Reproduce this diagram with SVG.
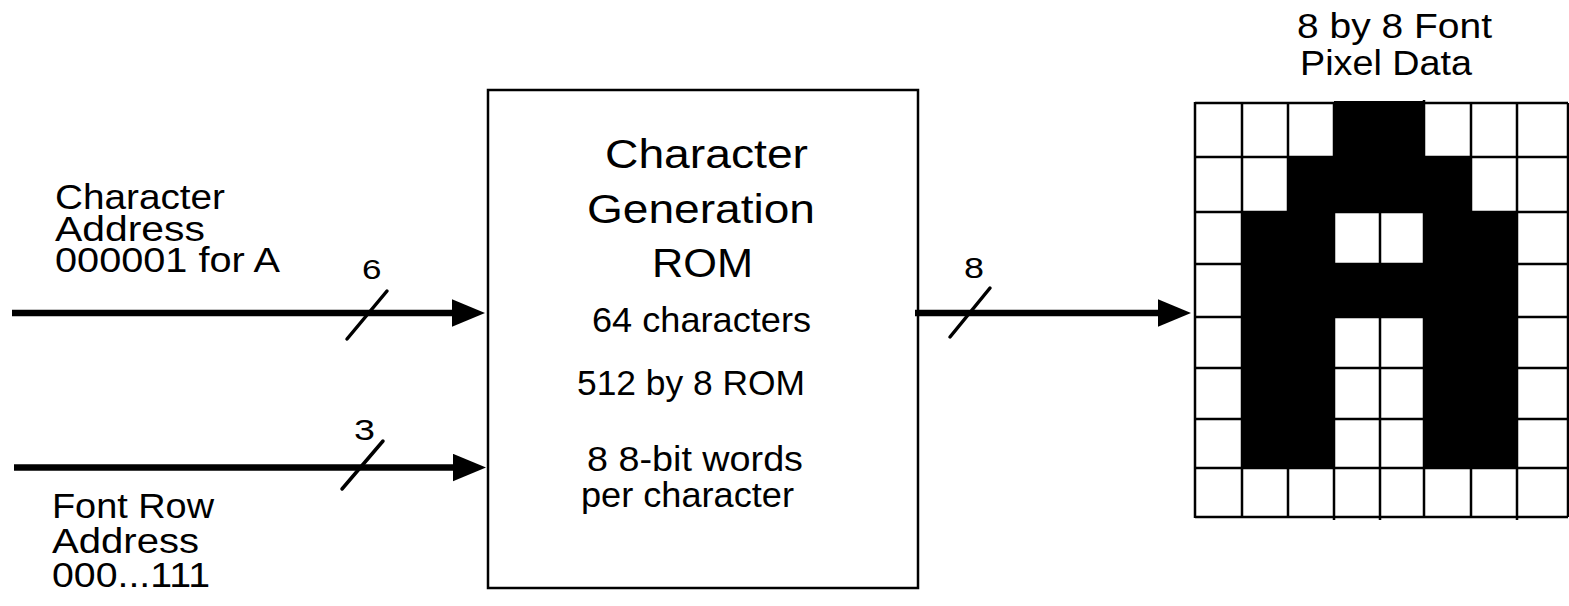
<svg xmlns="http://www.w3.org/2000/svg" width="1569" height="606" viewBox="0 0 1569 606">
  <style>
    text { font-family: "Liberation Sans", Arial, sans-serif; fill: #000; }
    .big { font-size: 40px; }
    .mid { font-size: 35px; }
    .bus { stroke: #000; stroke-width: 6.5; fill: none; }
    .slash { stroke: #000; stroke-width: 3.5; stroke-linecap: round; }
    .box { fill: #fff; stroke: #000; stroke-width: 2.5; }
    .grid line { stroke: #000; stroke-width: 2.5; }
    .on { fill: #000; }
  </style>
  <defs>
    <marker id="head" markerUnits="userSpaceOnUse" markerWidth="34" markerHeight="28" refX="0" refY="14" orient="auto">
      <path d="M0,0.3 L33,14 L0,27.7 z" fill="#000"/>
    </marker>
  </defs>

  <rect width="1569" height="606" fill="#fff"/>

  <!-- input labels -->
  <g id="char-address-label">
    <text class="mid" x="55" y="209" textLength="170" lengthAdjust="spacingAndGlyphs">Character</text>
    <text class="mid" x="55" y="241" textLength="150" lengthAdjust="spacingAndGlyphs">Address</text>
    <text class="mid" x="55" y="272" textLength="225" lengthAdjust="spacingAndGlyphs">000001  for A</text>
  </g>
  <g id="font-row-label">
    <text class="mid" x="52" y="518" textLength="162" lengthAdjust="spacingAndGlyphs">Font Row</text>
    <text class="mid" x="52" y="553" textLength="147" lengthAdjust="spacingAndGlyphs">Address</text>
    <text class="mid" x="52" y="587" textLength="158" lengthAdjust="spacingAndGlyphs">000...111</text>
  </g>

  <!-- ROM block -->
  <g id="rom">
    <rect class="box" x="488" y="90" width="430" height="498"/>
    <text class="big" x="605" y="168" textLength="203" lengthAdjust="spacingAndGlyphs">Character</text>
    <text class="big" x="587" y="223" textLength="228" lengthAdjust="spacingAndGlyphs">Generation</text>
    <text class="big" x="652" y="277" textLength="101" lengthAdjust="spacingAndGlyphs">ROM</text>
    <text class="mid" x="592" y="332" textLength="219" lengthAdjust="spacingAndGlyphs">64 characters</text>
    <text class="mid" x="577" y="395" textLength="228" lengthAdjust="spacingAndGlyphs">512 by 8 ROM</text>
    <text class="mid" x="587" y="471" textLength="216" lengthAdjust="spacingAndGlyphs">8  8-bit words</text>
    <text class="mid" x="581" y="507" textLength="213" lengthAdjust="spacingAndGlyphs">per character</text>
  </g>

  <!-- output label -->
  <g id="pixel-data-label">
    <text class="mid" x="1297" y="38" textLength="195" lengthAdjust="spacingAndGlyphs">8 by 8 Font</text>
    <text class="mid" x="1300" y="75" textLength="172" lengthAdjust="spacingAndGlyphs">Pixel Data</text>
  </g>

  <!-- 8x8 font bitmap for the letter A -->
  <g id="font-grid">
    <rect x="1195" y="103" width="373" height="414" fill="#fff"/>
    <g class="grid">
      <line x1="1195" y1="102" x2="1195" y2="518"/>
      <line x1="1242" y1="103" x2="1242" y2="517"/>
      <line x1="1288" y1="103" x2="1288" y2="517"/>
      <line x1="1334" y1="103" x2="1334" y2="520"/>
      <line x1="1380" y1="103" x2="1380" y2="520"/>
      <line x1="1424" y1="100" x2="1424" y2="517"/>
      <line x1="1471" y1="103" x2="1471" y2="517"/>
      <line x1="1517" y1="103" x2="1517" y2="520"/>
      <line x1="1568" y1="103" x2="1568" y2="517"/>
      <line x1="1195" y1="103" x2="1568" y2="103"/>
      <line x1="1195" y1="157" x2="1568" y2="157"/>
      <line x1="1195" y1="212" x2="1568" y2="212"/>
      <line x1="1195" y1="264" x2="1568" y2="264"/>
      <line x1="1195" y1="317" x2="1568" y2="317"/>
      <line x1="1195" y1="368" x2="1568" y2="368"/>
      <line x1="1195" y1="419" x2="1568" y2="419"/>
      <line x1="1195" y1="468" x2="1568" y2="468"/>
      <line x1="1195" y1="517" x2="1568" y2="517"/>
    </g>
    <!-- row 0 -->
    <rect class="on" x="1334" y="101" width="90" height="56"/>
    <!-- row 1 -->
    <rect class="on" x="1288" y="157" width="183" height="55"/>
    <!-- row 2 -->
    <rect class="on" x="1242" y="211" width="92" height="53"/>
    <rect class="on" x="1424" y="211" width="93" height="53"/>
    <!-- row 3 -->
    <rect class="on" x="1242" y="263" width="275" height="55"/>
    <!-- rows 4-6 -->
    <rect class="on" x="1242" y="317" width="92" height="151"/>
    <rect class="on" x="1424" y="317" width="93" height="151"/>
  </g>

  <!-- buses -->
  <g id="connectors">
    <line class="bus" x1="12" y1="313" x2="452" y2="313" marker-end="url(#head)"/>
    <line class="slash" x1="347" y1="339" x2="387" y2="291"/>
    <text x="362" y="279" font-size="27" textLength="19.5" lengthAdjust="spacingAndGlyphs">6</text>

    <line class="bus" x1="14" y1="467.5" x2="453" y2="467.5" marker-end="url(#head)"/>
    <line class="slash" x1="342" y1="489" x2="383" y2="441"/>
    <text x="354" y="440" font-size="29" textLength="21" lengthAdjust="spacingAndGlyphs">3</text>

    <line class="bus" x1="915" y1="313" x2="1158" y2="313" marker-end="url(#head)"/>
    <line class="slash" x1="950" y1="337" x2="990" y2="288"/>
    <text x="964" y="278" font-size="29" textLength="20" lengthAdjust="spacingAndGlyphs">8</text>
  </g>
</svg>
